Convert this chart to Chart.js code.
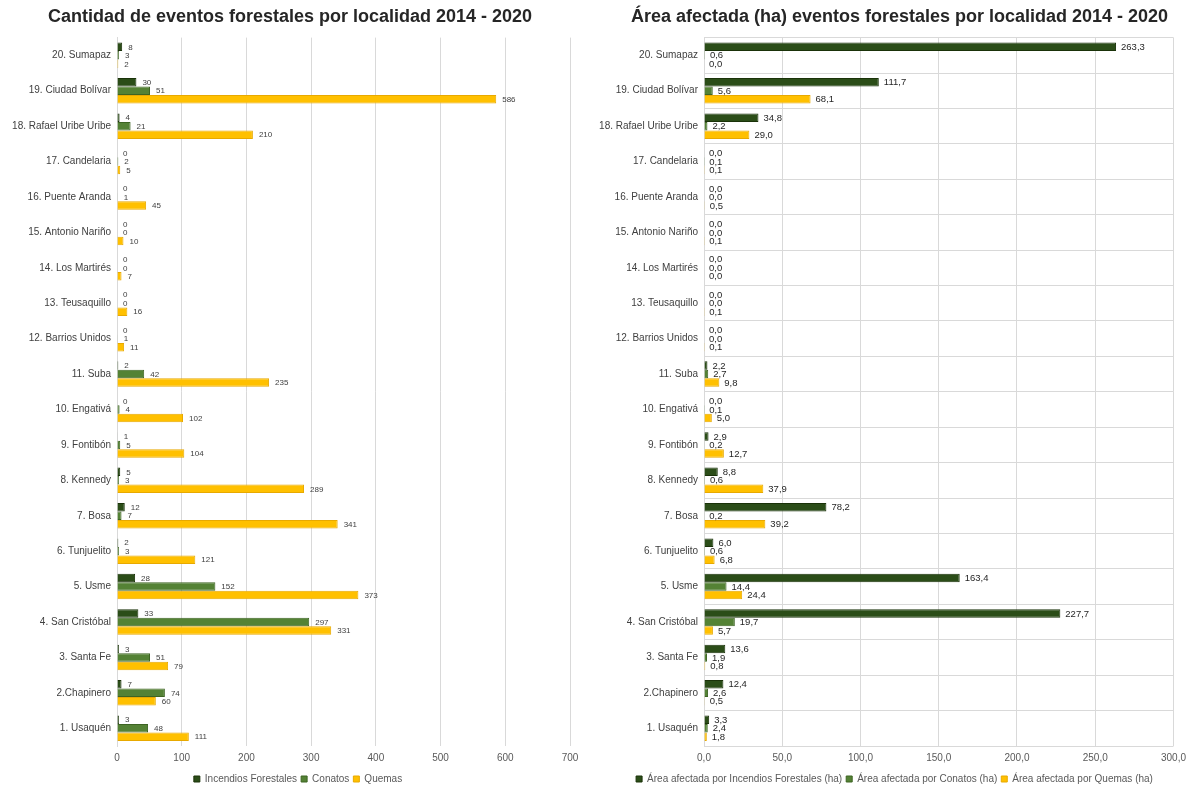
<!DOCTYPE html>
<html>
<head>
<meta charset="utf-8">
<script src="https://cdn.jsdelivr.net/npm/chart.js@4.4.1/dist/chart.umd.min.js"></script>
<style>
  body { margin: 0; background: #fff; }
  canvas { position: absolute; top: 0; }
  #eventsChart { left: 0; }
  #areaChart { left: 590px; }
</style>
</head>
<body>
<canvas id="eventsChart" width="590" height="789"></canvas>
<canvas id="areaChart" width="602" height="789"></canvas>
<script>
const localidades = [
  '20. Sumapaz', '19. Ciudad Bolívar', '18. Rafael Uribe Uribe', '17. Candelaria',
  '16. Puente Aranda', '15. Antonio Nariño', '14. Los Martirés', '13. Teusaquillo',
  '12. Barrios Unidos', '11. Suba', '10. Engativá', '9. Fontibón', '8. Kennedy',
  '7. Bosa', '6. Tunjuelito', '5. Usme', '4. San Cristóbal', '3. Santa Fe',
  '2.Chapinero', '1. Usaquén'
];

// cantidad de eventos
const incendios = [8, 30, 4, 0, 0, 0, 0, 0, 0, 2, 0, 1, 5, 12, 2, 28, 33, 3, 7, 3];
const conatos = [3, 51, 21, 2, 1, 0, 0, 0, 1, 42, 4, 5, 3, 7, 3, 152, 297, 51, 74, 48];
const quemas = [2, 586, 210, 5, 45, 10, 7, 16, 11, 235, 102, 104, 289, 341, 121, 373, 331, 79, 60, 111];

// área afectada (ha)
const areaIncendios = [263.3, 111.7, 34.8, 0.0, 0.0, 0.0, 0.0, 0.0, 0.0, 2.2, 0.0, 2.9, 8.8, 78.2, 6.0, 163.4, 227.7, 13.6, 12.4, 3.3];
const areaConatos = [0.6, 5.6, 2.2, 0.1, 0.0, 0.0, 0.0, 0.0, 0.0, 2.7, 0.1, 0.2, 0.6, 0.2, 0.6, 14.4, 19.7, 1.9, 2.6, 2.4];
const areaQuemas = [0.0, 68.1, 29.0, 0.1, 0.5, 0.1, 0.0, 0.1, 0.1, 9.8, 5.0, 12.7, 37.9, 39.2, 6.8, 24.4, 5.7, 0.8, 0.5, 1.8];

const colors = {
  incendios: ['#2b4d18', '#1a3209'],
  conatos: ['#548235', '#3d6423'],
  quemas: ['#ffc000', '#e8a900']
};

Chart.defaults.font.family = "'Liberation Sans', sans-serif";
Chart.defaults.color = '#595959';

// etiquetas de valor al final de cada barra
const valueLabels = {
  id: 'valueLabels',
  afterDatasetsDraw(chart, args, opts) {
    const ctx = chart.ctx;
    ctx.save();
    ctx.font = opts.size + "px 'Liberation Sans', sans-serif";
    ctx.fillStyle = opts.color;
    ctx.textBaseline = 'middle';
    ctx.textAlign = 'left';
    chart.data.datasets.forEach((ds, i) => {
      chart.getDatasetMeta(i).data.forEach((bar, j) => {
        const txt = ds.data[j].toFixed(opts.decimals).replace('.', ',');
        ctx.fillText(txt, bar.x + opts.offset, bar.y + 0.5);
      });
    });
    ctx.restore();
  }
};

// mueve título y leyenda horizontalmente
const shiftBoxes = {
  id: 'shiftBoxes',
  afterLayout(chart, args, opts) {
    const t = chart.titleBlock, l = chart.legend;
    if (t) { t.left += opts.title; t.right += opts.title; }
    if (l) { l.left += opts.legend; l.right += opts.legend; }
  }
};

function dataset(label, data, c) {
  return {
    label: label,
    data: data,
    backgroundColor: c[0],
    borderColor: c[1],
    borderWidth: 1,
    categoryPercentage: 0.72,
    barPercentage: 1.0
  };
}

function makeChart(id, cfg) {
  return new Chart(document.getElementById(id), {
    type: 'bar',
    data: {
      labels: localidades,
      datasets: cfg.datasets
    },
    plugins: [valueLabels, shiftBoxes],
    options: {
      indexAxis: 'y',
      responsive: false,
      animation: false,
      layout: { padding: { left: cfg.padLeft, right: cfg.padRight, top: 0, bottom: -5 } },
      scales: {
        x: {
          min: 0,
          max: cfg.max,
          ticks: {
            stepSize: cfg.step,
            padding: 6,
            font: { size: 10 },
            callback: v => v.toFixed(cfg.decimals).replace('.', ',')
          },
          grid: { color: '#d9d9d9', drawTicks: false },
          border: { display: false }
        },
        y: {
          afterFit: s => { s.width = cfg.axisWidth; },
          ticks: { padding: 6, font: { size: 10 }, color: '#404040' },
          grid: { display: cfg.rowLines, color: '#d9d9d9', drawTicks: false },
          border: { display: true, color: '#d9d9d9' }
        }
      },
      plugins: {
        title: {
          display: true,
          text: cfg.title,
          color: '#262626',
          font: { family: "'Liberation Sans Narrow', 'Liberation Sans', sans-serif", size: 18, weight: 'bold' },
          padding: { top: 6, bottom: 10 }
        },
        legend: {
          position: 'bottom',
          labels: { boxWidth: 6, boxHeight: 6, padding: 4, font: { size: 10 }, color: '#595959' }
        },
        tooltip: { enabled: false },
        valueLabels: { size: cfg.labelSize, color: cfg.labelColor, decimals: cfg.decimals, offset: cfg.labelOffset },
        shiftBoxes: { title: cfg.titleShift, legend: cfg.legendShift }
      }
    }
  });
}

makeChart('eventsChart', {
  title: 'Cantidad de eventos forestales por localidad 2014 - 2020',
  datasets: [
    dataset('Incendios Forestales', incendios, colors.incendios),
    dataset('Conatos', conatos, colors.conatos),
    dataset('Quemas', quemas, colors.quemas)
  ],
  max: 700, step: 100, decimals: 0,
  padLeft: 10, padRight: 20, axisWidth: 107,
  titleShift: 0, legendShift: 8,
  rowLines: false,
  labelSize: 8, labelColor: '#404040', labelOffset: 6
});

makeChart('areaChart', {
  title: 'Área afectada (ha) eventos forestales por localidad 2014 - 2020',
  datasets: [
    dataset('Área afectada por Incendios Forestales (ha)', areaIncendios, colors.incendios),
    dataset('Área afectada por Conatos (ha)', areaConatos, colors.conatos),
    dataset('Área afectada por Quemas (ha)', areaQuemas, colors.quemas)
  ],
  max: 300, step: 50, decimals: 1,
  padLeft: 0, padRight: 17, axisWidth: 114,
  titleShift: 17, legendShift: 12,
  rowLines: true,
  labelSize: 9.5, labelColor: '#262626', labelOffset: 5
});
</script>
</body>
</html>
